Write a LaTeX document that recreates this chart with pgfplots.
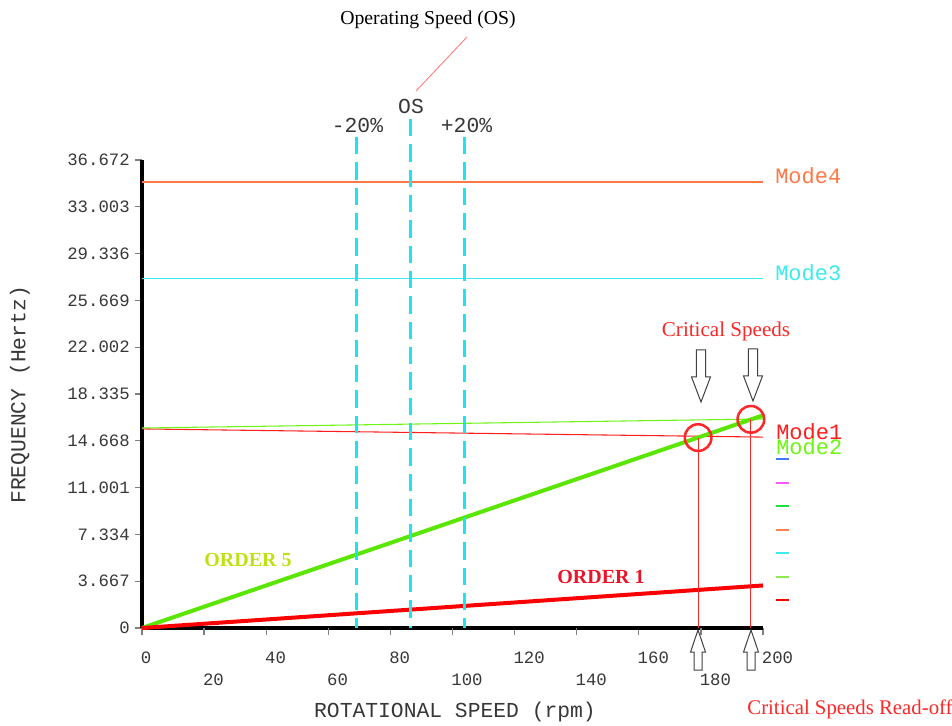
\documentclass[border=0pt]{standalone}
\usepackage{pgfplots}
\pgfplotsset{compat=1.18}
\usepackage{fontspec}
\setmainfont{Liberation Serif}
\newfontfamily\mono{Liberation Mono}

\definecolor{modefour}{RGB}{255,120,70}
\definecolor{modethree}{RGB}{60,235,235}
\definecolor{modeone}{RGB}{255,30,30}
\definecolor{modetwo}{RGB}{110,245,20}
\definecolor{ordfive}{RGB}{90,230,0}
\definecolor{ordone}{RGB}{250,0,0}
\definecolor{dashcyan}{RGB}{30,228,240}
\definecolor{ordfivetxt}{RGB}{190,225,20}
\definecolor{ordonetxt}{RGB}{235,20,40}
\definecolor{crit}{RGB}{250,40,40}
\definecolor{lblgray}{RGB}{55,55,55}

\newcommand\downarr[2]{\draw[line width=0.75pt, draw=black!75, fill=white] (#1,#2) -- ++(-7.1pt,18.75pt) -- ++(3.7pt,0) -- ++(0,20.25pt) -- ++(6.8pt,0) -- ++(0,-20.25pt) -- ++(3.7pt,0) -- cycle;}
\newcommand\uparr[2]{\draw[line width=0.75pt, draw=black!75, fill=white] (#1,#2) -- ++(-5.6pt,-16.5pt) -- ++(2.6pt,0) -- ++(0,-13.5pt) -- ++(6pt,0) -- ++(0,13.5pt) -- ++(2.6pt,0) -- cycle;}

\begin{document}
\begin{tikzpicture}
\path[use as bounding box] (-106.5pt,-72.75pt) rectangle (607.5pt,471pt);
\begin{axis}[
  at={(0pt,0pt)}, anchor=south west,
  scale only axis, width=465.75pt, height=351pt,
  xmin=0, xmax=200, ymin=0, ymax=36.672,
  clip=false,
  axis x line=bottom, axis y line=left,
  x axis line style={-, line width=2.4pt, black},
  y axis line style={-, line width=3pt, black},
  tick align=outside, major tick length=5pt,
  tick style={gray, line width=0.9pt},
  xtick={0,40,80,120,160,200},
  xticklabels={0,40,80,120,160,200},
  extra x ticks={20,60,100,140,180},
  extra x tick labels={20,60,100,140,180},
  extra x tick style={xticklabel style={yshift=-16.5pt}},
  xticklabel style={font=\mono\fontsize{13}{15}\selectfont, text=lblgray, anchor=north west, inner sep=0pt, xshift=-1pt, yshift=-13pt},
  ytick={0,3.667,7.334,11.001,14.668,18.335,22.002,25.669,29.336,33.003,36.672},
  yticklabels={0,3.667,7.334,11.001,14.668,18.335,22.002,25.669,29.336,33.003,36.672},
  yticklabel style={font=\mono\fontsize{13}{15}\selectfont, text=lblgray, anchor=east, inner sep=0pt, xshift=-4pt},
  xlabel={ROTATIONAL SPEED (rpm)},
  ylabel={FREQUENCY (Hertz)},
  xlabel style={font=\mono\fontsize{16}{18}\selectfont, text=lblgray, at={(rel axis cs:0.504,-0.1795)}, anchor=center},
  ylabel style={font=\mono\fontsize{16}{18}\selectfont, text=lblgray, at={(rel axis cs:-0.1965,0.498)}, anchor=center},
]
% natural frequency lines (modes)
\addplot[modefour, line width=0.8pt] coordinates {(0,34.95) (200,34.95)};
\addplot[modethree, line width=0.8pt] coordinates {(0,27.35) (200,27.35)};
\addplot[modeone, line width=0.8pt] coordinates {(0,15.60) (200,14.96)};
\addplot[modetwo, line width=0.8pt] coordinates {(0,15.67) (200,16.38)};
% excitation orders
\addplot[ordfive, line width=3pt] coordinates {(0,0) (200,16.667)};
\addplot[ordone, line width=3pt] coordinates {(0,0) (200,3.333)};
% operating speed band
\addplot[dashcyan, line width=2.2pt, dash pattern=on 13pt off 6pt] coordinates {(69.2,38.47) (69.2,0)};
\addplot[dashcyan, line width=2.2pt, dash pattern=on 13pt off 6pt] coordinates {(86.4,39.88) (86.4,0)};
\addplot[dashcyan, line width=2.2pt, dash pattern=on 13pt off 6pt] coordinates {(104.0,38.47) (104.0,0)};
% critical speed read-off
\addplot[crit, line width=0.7pt] coordinates {(179.1,14.92) (179.1,0)};
\addplot[crit, line width=0.7pt] coordinates {(196.1,16.35) (196.1,0)};
\addplot[only marks, mark=o, mark size=10pt, crit, mark options={line width=1.9pt}] coordinates {(179.1,14.92) (196.1,16.35)};
\end{axis}

% annotations
\node[font=\fontsize{14.8}{17}\selectfont] at (214.5pt,456pt) {Operating Speed (OS)};
\draw[red!50, line width=0.7pt] (205.5pt,402.75pt) -- (243.75pt,443.25pt);
\node[font=\mono\fontsize{16}{18}\selectfont, text=lblgray] at (201.75pt,391.5pt) {OS};
\node[font=\mono\fontsize{16}{18}\selectfont, text=lblgray] at (161.6pt,377.25pt) {-20\%};
\node[font=\mono\fontsize{16}{18}\selectfont, text=lblgray] at (243.4pt,377.25pt) {+20\%};

\node[font=\fontsize{15.8}{18}\selectfont, text=crit] at (438pt,222.75pt) {Critical Speeds};
\node[font=\fontsize{15.6}{18}\selectfont, text=crit] at (531pt,-60.75pt) {Critical Speeds Read-off};
\downarr{419.25pt}{169.5pt}
\downarr{458.25pt}{170.25pt}
\uparr{417pt}{-1.5pt}
\uparr{456.75pt}{-1.5pt}

\node[font=\bfseries\fontsize{15}{17}\selectfont, text=ordfivetxt] at (79.5pt,51pt) {ORDER 5};
\node[font=\bfseries\fontsize{15}{17}\selectfont, text=ordonetxt] at (344.25pt,38.25pt) {ORDER 1};

\node[font=\mono\fontsize{16.5}{18}\selectfont, text=modefour, anchor=west, inner sep=0pt] at (474.75pt,339pt) {Mode4};
\node[font=\mono\fontsize{16.5}{18}\selectfont, text=modethree, anchor=west, inner sep=0pt] at (474.75pt,266.25pt) {Mode3};
\node[font=\mono\fontsize{16.5}{18}\selectfont, text=modeone, anchor=west, inner sep=0pt] at (475.5pt,147pt) {Mode1};
\node[font=\mono\fontsize{16.5}{18}\selectfont, text=modetwo, anchor=west, inner sep=0pt] at (475.5pt,135.75pt) {Mode2};

% legend swatches
\draw[line width=0.8pt, color={rgb,255:red,70;green,120;blue,255}] (475.5pt,126.75pt) -- (485.25pt,126.75pt);
\draw[line width=0.8pt, color={rgb,255:red,255;green,90;blue,255}] (475.5pt,108.75pt) -- (485.25pt,108.75pt);
\draw[line width=0.8pt, color={rgb,255:red,30;green,225;blue,60}] (475.5pt,91.5pt) -- (485.25pt,91.5pt);
\draw[line width=0.8pt, color={rgb,255:red,255;green,130;blue,80}] (475.5pt,73.5pt) -- (485.25pt,73.5pt);
\draw[line width=0.8pt, color={rgb,255:red,60;green,235;blue,235}] (475.5pt,56.25pt) -- (485.25pt,56.25pt);
\draw[line width=0.8pt, color={rgb,255:red,140;green,235;blue,80}] (475.5pt,38.25pt) -- (485.25pt,38.25pt);
\draw[line width=0.8pt, color={rgb,255:red,250;green,0;blue,0}] (475.5pt,21pt) -- (485.25pt,21pt);
\end{tikzpicture}
\end{document}
